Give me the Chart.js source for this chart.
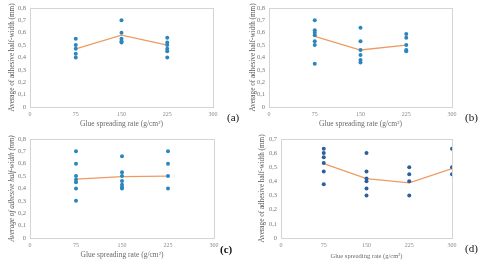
<!DOCTYPE html>
<html>
<head>
<meta charset="utf-8">
<script src="https://cdn.jsdelivr.net/npm/chart.js@4"></script>
<style>
  body { margin: 0; background: #fff; width: 487px; height: 262px; position: relative; overflow: hidden; }
  .panel { position: absolute; }
  .tag { position: absolute; font-family: 'Liberation Serif', serif; font-size: 11px; color: #111; }
</style>
</head>
<body>
<div class="panel" style="left:0;top:0;width:243px;height:131px"><canvas id="ca" width="243" height="131"></canvas></div>
<div class="panel" style="left:243px;top:0;width:244px;height:131px"><canvas id="cb" width="244" height="131"></canvas></div>
<div class="panel" style="left:0;top:131px;width:243px;height:131px"><canvas id="cc" width="243" height="131"></canvas></div>
<div class="panel" style="left:243px;top:131px;width:244px;height:131px"><canvas id="cd" width="244" height="131"></canvas></div>
<div class="tag" style="left:227px;top:111px">(a)</div>
<div class="tag" style="left:465px;top:111px">(b)</div>
<div class="tag" style="left:220px;top:243px;font-weight:bold">(c)</div>
<div class="tag" style="left:465px;top:242px">(d)</div>
<script>
// spreading rates (g/cm2)
const ratesABC = [75, 150, 225];
const ratesD = [75, 150, 225, 300];

// individual half-width measurements (mm), one list per rate
const pointsA = [
  [0.55, 0.50, 0.47, 0.43, 0.40],
  [0.70, 0.60, 0.55, 0.53, 0.52],
  [0.56, 0.52, 0.50, 0.47, 0.45, 0.40]
];
const meanA = [0.47, 0.58, 0.50];

const pointsB = [
  [0.70, 0.62, 0.60, 0.58, 0.53, 0.50, 0.35],
  [0.64, 0.53, 0.46, 0.42, 0.38, 0.36],
  [0.59, 0.56, 0.50, 0.46, 0.45]
];
const meanB = [0.57, 0.46, 0.50];

const pointsC = [
  [0.70, 0.60, 0.50, 0.47, 0.45, 0.40, 0.30],
  [0.66, 0.53, 0.50, 0.46, 0.43, 0.41, 0.40],
  [0.70, 0.60, 0.50, 0.40]
];
const meanC = [0.475, 0.495, 0.50];

const pointsD = [
  [0.63, 0.60, 0.57, 0.53, 0.47, 0.38],
  [0.60, 0.47, 0.42, 0.40, 0.35, 0.30],
  [0.50, 0.45, 0.40, 0.30],
  [0.63, 0.50, 0.45]
];
const meanD = [0.525, 0.42, 0.39, 0.49];

const xTicks = [0, 75, 150, 225, 300];

const frame = {
  id: 'frame',
  afterDraw(chart) {
    const { ctx, chartArea: a } = chart;
    ctx.save();
    ctx.strokeStyle = '#d4d4d4';
    ctx.lineWidth = 1;
    ctx.strokeRect(Math.round(a.left) + 0.5, Math.round(a.top) + 0.5,
      Math.round(a.right - a.left), Math.round(a.bottom - a.top));
    ctx.restore();
  }
};

function makeChart(id, rates, points, means, o) {
  const scatter = rates.flatMap((r, i) => points[i].map(v => ({ x: r, y: v })));
  const line = rates.map((r, i) => ({ x: r, y: means[i] }));
  new Chart(document.getElementById(id), {
    type: 'scatter',
    data: {
      datasets: [
        {
          data: line,
          showLine: true,
          borderColor: '#ef9a63',
          borderWidth: 1.3,
          pointRadius: 0,
          order: 2
        },
        {
          data: scatter,
          pointRadius: 2,
          pointBackgroundColor: o.dot,
          pointBorderWidth: 0,
          order: 1
        }
      ]
    },
    options: {
      responsive: false,
      animation: false,
      layout: { autoPadding: false, padding: { top: o.top, right: o.right, left: 0, bottom: 0 } },
      plugins: { legend: { display: false }, tooltip: { enabled: false } },
      scales: {
        x: {
          type: 'linear', min: 0, max: 300,
          afterBuildTicks: s => { s.ticks = xTicks.map(v => ({ value: v })); },
          afterFit: s => { s.height = 24; },
          grid: { display: false, drawTicks: false }, border: { display: false },
          ticks: { color: '#8a8a8a', padding: 4, font: { family: 'Liberation Serif', size: 6 } },
          title: {
            display: true, text: 'Glue spreading rate (g/cm²)', color: '#6a6a6a',
            padding: { top: 2, bottom: 2 },
            font: { family: 'Liberation Serif', size: o.xTitle }
          }
        },
        y: {
          min: 0, max: o.ymax,
          afterFit: s => { s.width = o.yw; },
          grid: { display: false, drawTicks: false }, border: { display: false },
          ticks: {
            stepSize: 0.1, color: '#777', padding: 4,
            font: { family: 'Liberation Serif', size: 6.5 },
            callback: v => v === 0 ? '0' : v.toFixed(1).replace('.', ',')
          },
          title: {
            display: true, text: 'Average of adhesive half-width (mm)', color: '#555',
            padding: { top: o.tp, bottom: 0 },
            font: { family: 'Liberation Serif', size: 7.2, style: o.italic ? 'italic' : 'normal' }
          }
        }
      }
    },
    plugins: [frame]
  });
}

makeChart('ca', ratesABC, pointsA, meanA, { top: 5, right: 30, yw: 30, tp: 8, ymax: 0.8, dot: '#2a86bd', xTitle: 7.5 });
makeChart('cb', ratesABC, pointsB, meanB, { top: 5, right: 35, yw: 26, tp: 6, ymax: 0.8, dot: '#2a86bd', xTitle: 7.5 });
makeChart('cc', ratesABC, pointsC, meanC, { top: 6, right: 29, yw: 30, tp: 8, ymax: 0.8, dot: '#2a86bd', xTitle: 7.5, italic: true });
makeChart('cd', ratesD, pointsD, meanD, { top: 5, right: 35, yw: 38, tp: 15, ymax: 0.7, dot: '#2d5f9f', xTitle: 6.5 });
</script>
</body>
</html>
